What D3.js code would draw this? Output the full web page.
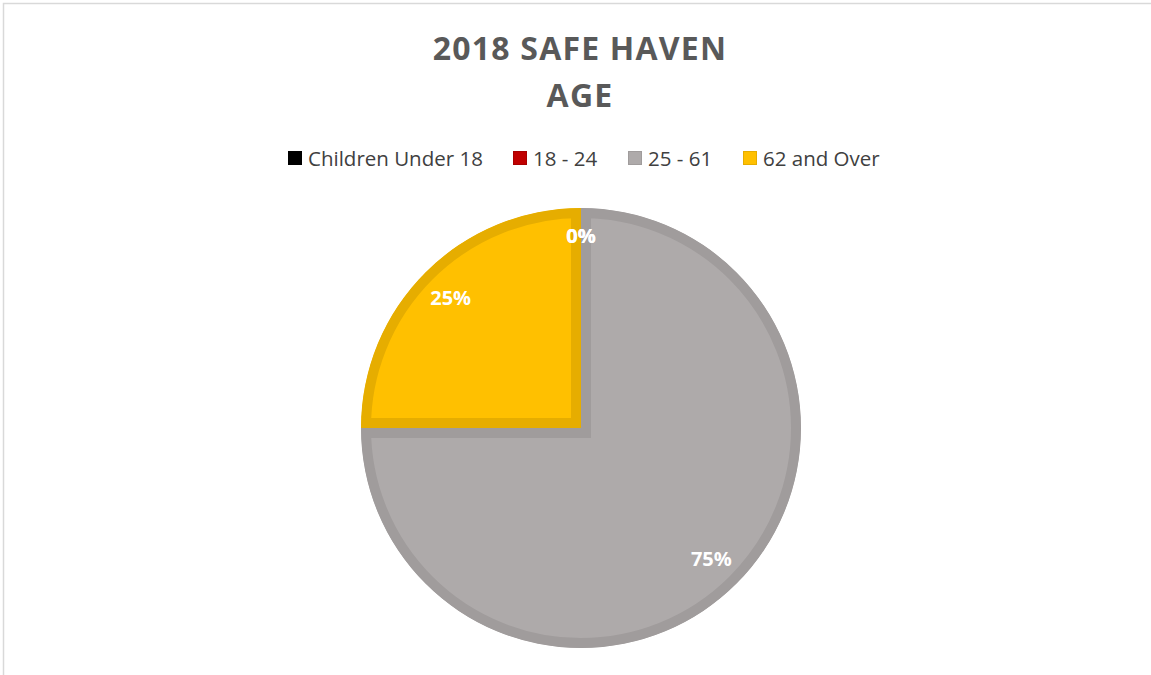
<!DOCTYPE html>
<html>
<head>
<meta charset="utf-8">
<script src="https://cdn.jsdelivr.net/npm/d3@7"></script>
<style>
  html, body { margin: 0; padding: 0; background: #ffffff; }
  svg { display: block; }
</style>
</head>
<body>
<svg id="chart" width="1151" height="675"></svg>
<script>
// Age groups and their share of the 2018 Safe Haven population (%)
const categories = ["Children Under 18", "18 - 24", "25 - 61", "62 and Over"];
const values = [0, 0, 75, 25];
const fills = ["#000000", "#C00000", "#AEAAAA", "#FFC000"];
const edges = ["#000000", "#A80000", "#A09C9C", "#E6AD00"];
const titleLines = ["2018 SAFE HAVEN", "AGE"];

const W = 1151, H = 675;
const svg = d3.select("#chart");
const font = "'Open Sans', 'Noto Sans', sans-serif";

// outer chart frame
svg.append("rect")
  .attr("x", 3.5).attr("y", 3.5)
  .attr("width", W + 10).attr("height", H + 10)
  .attr("fill", "#ffffff")
  .attr("stroke", "#D9D9D9").attr("stroke-width", 1.5);

// title
const title = svg.append("text")
  .attr("text-anchor", "middle")
  .attr("font-family", font)
  .attr("font-weight", 700)
  .attr("font-size", 32)
  .attr("letter-spacing", 1.2)
  .attr("fill", "#595959");
title.selectAll("tspan")
  .data(titleLines)
  .join("tspan")
  .attr("x", 580)
  .attr("y", (d, i) => 60 + i * 47)
  .text(d => d);

// legend
const legendScale = d3.scaleOrdinal().domain(categories).range([288, 513, 628, 743]);
const legend = svg.append("g").attr("font-family", font).attr("font-size", 20.5);
const items = legend.selectAll("g")
  .data(categories)
  .join("g")
  .attr("transform", d => `translate(${legendScale(d)},158)`);
items.append("rect")
  .attr("x", 0.5).attr("y", -6.5)
  .attr("width", 13).attr("height", 13)
  .attr("fill", (d, i) => fills[i])
  .attr("stroke", (d, i) => edges[i]).attr("stroke-width", 1);
items.append("text")
  .attr("x", 20).attr("y", 7.5)
  .attr("fill", "#404040")
  .text(d => d);

// pie
const cx = 581, cy = 428, r = 220;
const pie = d3.pie().sort(null).value(d => d.value);
const arcs = pie(categories.map((c, i) => ({ name: c, value: values[i], i })));
const arc = d3.arc().innerRadius(0).outerRadius(r);
const labelArc = d3.arc().innerRadius(r * 0.838).outerRadius(r * 0.838);
const zeroLabelArc = d3.arc().innerRadius(r * 0.873).outerRadius(r * 0.873);

const g = svg.append("g").attr("transform", `translate(${cx},${cy})`);
const defs = svg.append("defs");

arcs.forEach((a, k) => {
  if (a.value <= 0) return;
  const id = "slice-clip-" + k;
  defs.append("clipPath").attr("id", id)
    .append("path").attr("d", arc(a));
  // slice body with an inner border kept inside its own outline
  g.append("path")
    .attr("d", arc(a))
    .attr("fill", fills[a.data.i])
    .attr("stroke", edges[a.data.i])
    .attr("stroke-width", 20)
    .attr("stroke-linejoin", "miter")
    .attr("clip-path", `url(#${id})`);
});

// data labels
const total = d3.sum(values);
g.selectAll("text.lbl")
  .data(arcs)
  .join("text")
  .attr("class", "lbl")
  .attr("transform", d => `translate(${(d.value > 0 ? labelArc : zeroLabelArc).centroid(d)})`)
  .attr("text-anchor", "middle")
  .attr("dy", "0.36em")
  .attr("font-family", font)
  .attr("font-weight", 700)
  .attr("font-size", 20)
  .attr("fill", "#ffffff")
  .text(d => d3.format(".0%")(d.value / total));
</script>
</body>
</html>
